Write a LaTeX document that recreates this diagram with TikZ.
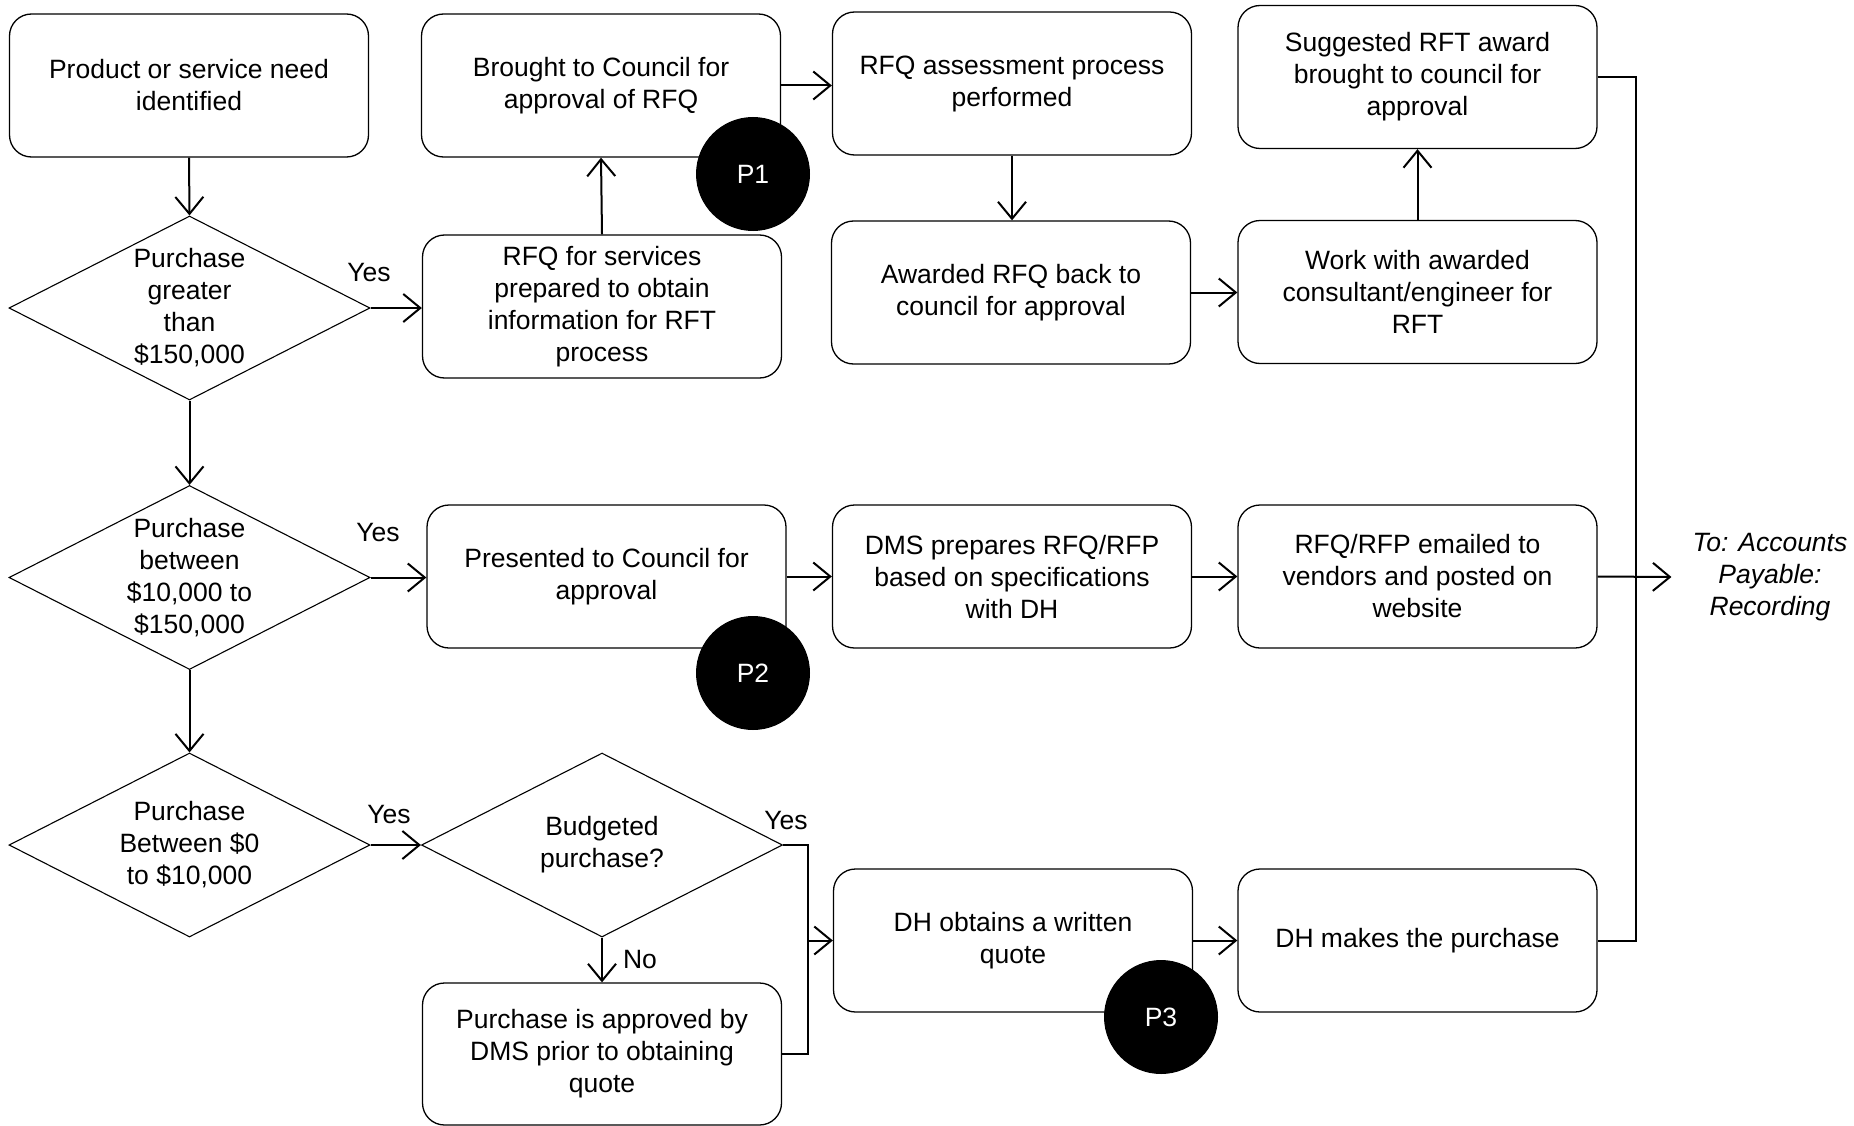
\documentclass[tikz,border=0pt]{standalone}
\usepackage{fontspec}
\setmainfont{Liberation Sans}
\usetikzlibrary{shapes.geometric,arrows.meta}
\newcommand{\fsz}{\fontsize{26.5}{32}\selectfont}
\begin{document}
\begin{tikzpicture}[x=1pt,y=-1pt,
  box/.style={draw, rounded corners=22pt, line width=1.3pt, minimum width=359pt, minimum height=143pt, align=center, inner sep=0pt, font=\fsz},
  dia/.style={draw, diamond, line width=1.1pt, minimum width=361pt, minimum height=184pt, inner sep=0pt},
  dtext/.style={align=center, font=\fsz, inner sep=0pt},
  pin/.style={circle, fill=black, minimum size=114pt, text=white, font=\fsz, inner sep=0pt},
  arr/.style={line width=2pt, -{Straight Barb[length=17pt,width=28pt]}},
  ln/.style={line width=2pt},
  lbl/.style={font=\fsz, inner sep=0pt}]
\useasboundingbox (0,0) rectangle (1854,1126);

% boxes
\node[box] (A) at (189,85.5) {Product or service need\\identified};
\node[box] (B) at (601,85.5) {Brought to Council for\\approval of RFQ};
\node[box] (C) at (1012,83.5) {RFQ assessment process\\performed};
\node[box] (D) at (1417.5,77) {Suggested RFT award\\brought to council for\\approval};
\node[box] (E) at (602,306.5) {RFQ for services\\prepared to obtain\\information for RFT\\process};
\node[box] (F) at (1011,292.5) {Awarded RFQ back to\\council for approval};
\node[box] (G) at (1417.5,292) {Work with awarded\\consultant/engineer for\\RFT};
\node[box] (H) at (606.5,576.5) {Presented to Council for\\approval};
\node[box] (I) at (1012,576.5) {DMS prepares RFQ/RFP\\based on specifications\\with DH};
\node[box] (J) at (1417.5,576.5) {RFQ/RFP emailed to\\vendors and posted on\\website};
\node[box, minimum height=142pt] (K) at (602,1054) {Purchase is approved by\\DMS prior to obtaining\\quote};
\node[box] (L) at (1013,940.5) {DH obtains a written\\quote};
\node[box] (M) at (1417.5,940.5) {DH makes the purchase};

% diamonds
\node[dia] (d1) at (189.5,308) {};
\node[dtext] (d1t) at (d1) {Purchase\\greater\\than\\\$150,000};
\node[dia] (d2) at (189.5,577.5) {};
\node[dtext] (d2t) at (d2) {Purchase\\between\\\$10,000 to\\\$150,000};
\node[dia] (d3) at (189.5,845) {};
\node[dtext] (d3t) at (d3) {Purchase\\Between \$0\\to \$10,000};
\node[dia] (d4) at (602,845) {};
\node[dtext] (d4t) at (d4) {Budgeted\\purchase?};

% output text
\node[align=center, font=\fsz\itshape, inner xsep=21pt, inner ysep=0pt] (out) at (1770,577) {To: Accounts\\Payable:\\Recording};

% rail coordinates
\coordinate (railtop) at (1636,77);
\coordinate (railbot) at (1636,940.5);
\coordinate (jn) at (808,940.5);

% connectors
\draw[arr] (A.south) -- (d1.north);
\draw[arr] (d1.east) -- (d1.east -| E.west);
\draw[arr] (E.north) -- (B.south);
\draw[arr] (B.east) -- (B.east -| C.west);
\draw[arr] (C.south) -- (C.south |- F.north);
\draw[arr] (F.east) -- (F.east -| G.west);
\draw[arr] (G.north) -- (D.south);
\draw[ln] (D.east) -- (railtop) -- (railbot) -- (M.east);
\draw[arr] (H.east) -- (H.east -| I.west);
\draw[arr] (I.east) -- (J.west);
\draw[arr] (J.east) -- (out.west);
\draw[arr] (d1.south) -- (d2.north);
\draw[arr] (d2.south) -- (d3.north);
\draw[arr] (d2.east) -- (d2.east -| H.west);
\draw[arr] (d3.east) -- (d4.west);
\draw[arr] (d4.south) -- (K.north);
\draw[ln] (d4.east) -- (d4.east -| jn) -- (jn);
\draw[ln] (K.east) -- (K.east -| jn) -- (jn);
\draw[arr] (jn) -- (L.west);
\draw[arr] (L.east) -- (M.west);

% labels
\node[lbl] (y1) at (369,273) {Yes};
\node[lbl] (y2) at (378,533) {Yes};
\node[lbl] (y3) at (389,815) {Yes};
\node[lbl] (y4) at (786,821) {Yes};
\node[lbl] (no) at (640,960) {No};

% pins
\node[pin] (P1) at (753,174) {P1};
\node[pin] (P2) at (753,673) {P2};
\node[pin] (P3) at (1161,1017) {P3};
\end{tikzpicture}
\end{document}
